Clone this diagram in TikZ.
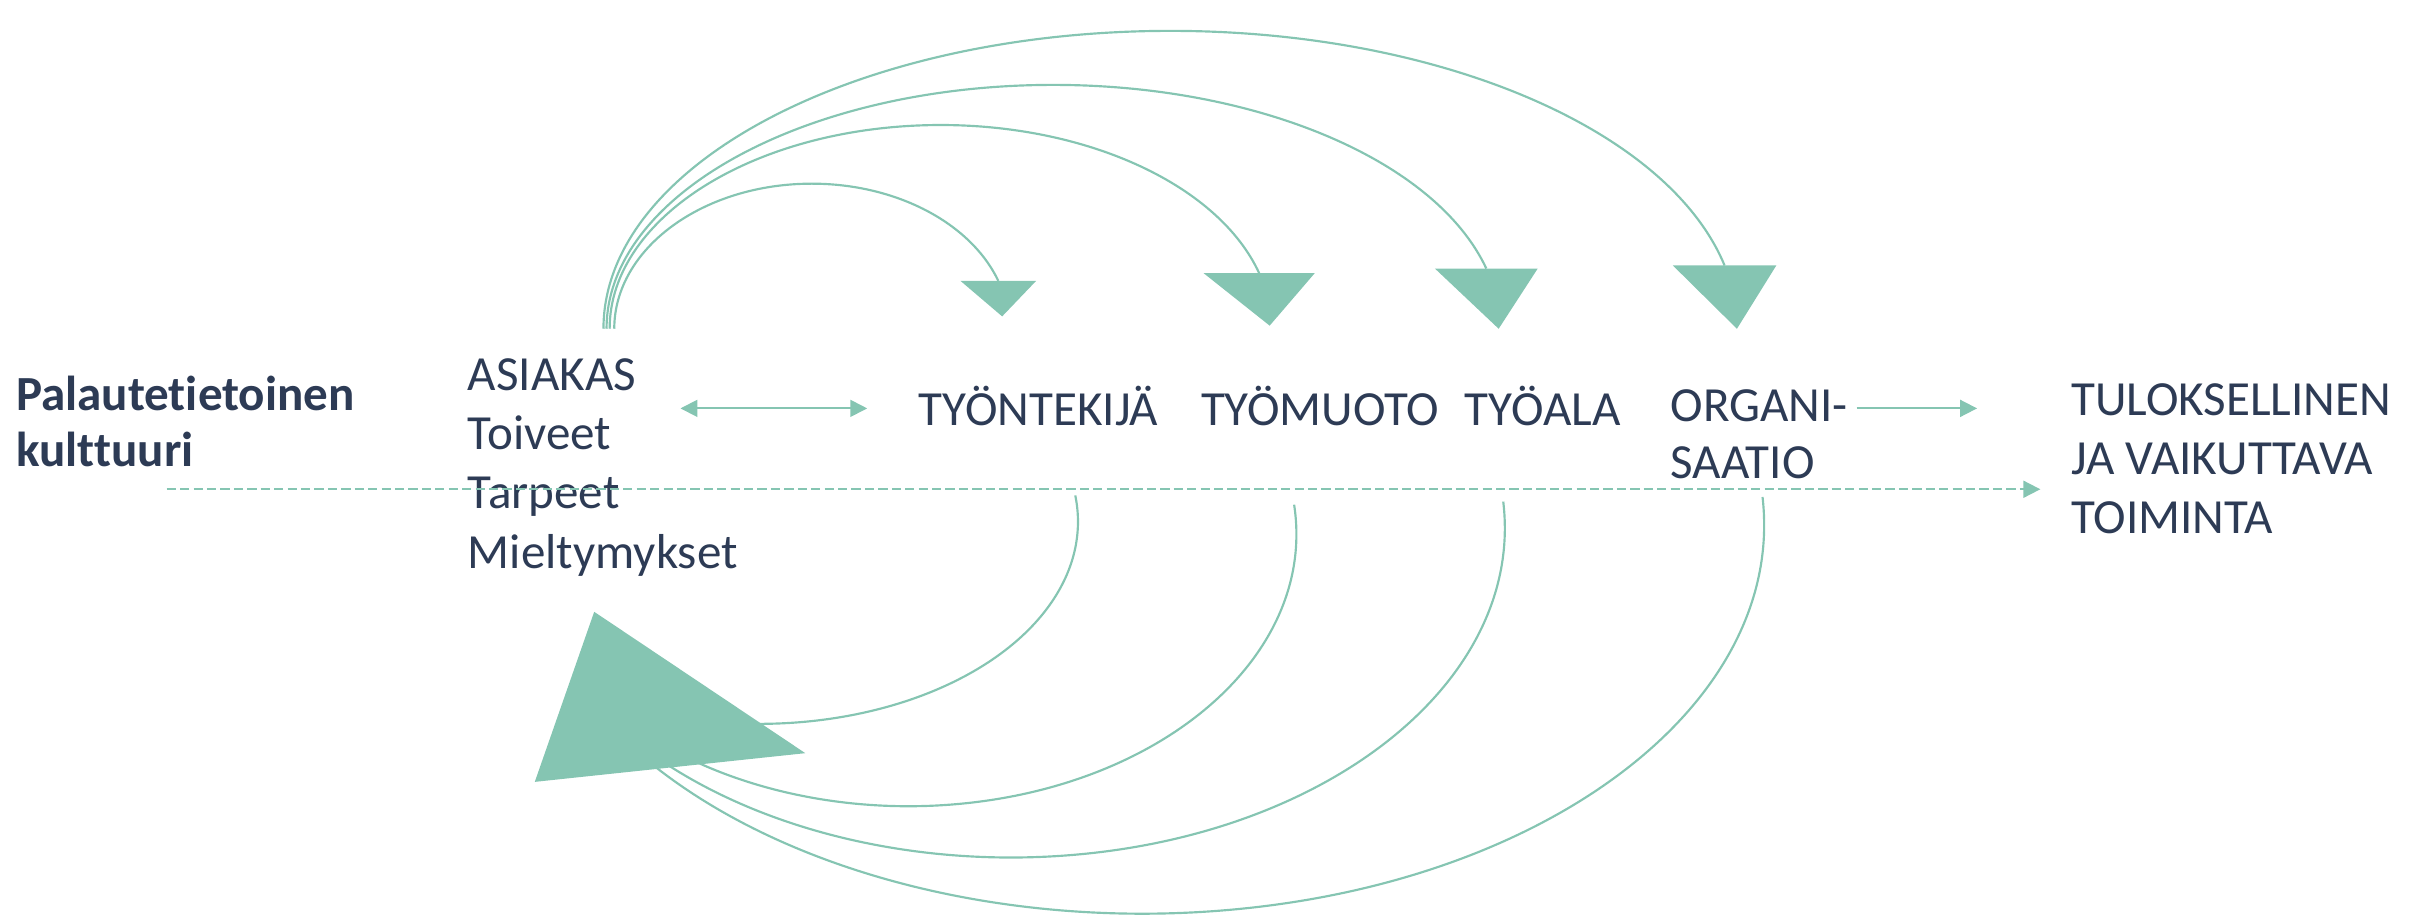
\documentclass[tikz,border=0pt]{standalone}
\usepackage{fontspec}
\setmainfont{Carlito}[Ligatures={NoCommon,NoRequired,NoContextual}]
\usetikzlibrary{arrows.meta}
\definecolor{tealc}{HTML}{85C5B2}
\definecolor{navyc}{HTML}{2D3B55}
\begin{document}
\begin{tikzpicture}[x=1pt,y=-1pt,
  lbl/.style={anchor=base west, inner sep=0pt, outer sep=0pt, text=navyc,
              font=\fontsize{31.8}{38.5}\selectfont},
  boldlbl/.style={lbl, font=\fontsize{31.8}{38.5}\selectfont\bfseries},
  arcline/.style={draw=tealc, line width=1.4pt},
  headfill/.style={fill=tealc, draw=none},
  flow/.style={draw=tealc, line width=1.2pt, -{Triangle[length=11pt,width=11pt]}},
  dflow/.style={draw=tealc, line width=1.2pt, {Triangle[length=11pt,width=11pt]}-{Triangle[length=11pt,width=11pt]}},
  dashline/.style={flow, dash pattern=on 6pt off 2.7pt}
]
\useasboundingbox (0,0) rectangle (1568,594.8);

% left title
\node[boldlbl] (pal1) at (10.4,265.7) {Palautet\kern0pt ietoinen};
\node[boldlbl] (pal2) at (10.4,302.4) {kult\kern0pt tuuri};

% ASIAKAS block
\node[lbl] (asiakas) at (303.2,252.7) {ASIAKAS};
\node[lbl] (toiveet) at (303.2,291.2) {Toiveet};
\node[lbl] (tarpeet) at (303.2,329.7) {Tarpeet};
\node[lbl] (mielt)   at (303.2,368.2) {Mieltymykset};

% middle items
\node[lbl] (tyontekija) at (595.4,275.4) {TYÖNTEKIJÄ};
\node[lbl] (tyomuoto)   at (778.2,275.4) {TYÖMUOTO};
\node[lbl] (tyoala)     at (949.1,275.4) {TYÖALA};
\node[lbl] (organi)     at (1082.4,273.2) {ORGANI-};
\node[lbl] (saatio)     at (1082.4,310.2) {SAATIO};

% result
\node[lbl] (tulos1) at (1342,268.9) {TULOKSELLINEN};
\node[lbl] (tulos2) at (1342,307.3) {JA VAIKUTTAVA};
\node[lbl] (tulos3) at (1342,345.7) {TOIMINTA};

% straight connectors
\coordinate (da) at (440.9,264.6);
\coordinate (db) at (561.9,264.6);
\draw[dflow] (da) -- (db);
\coordinate (oa) at (1203,264.6);
\coordinate (ob) at (1281,264.6);
\draw[flow] (oa) -- (ob);
\coordinate (dsa) at (108,317);
\coordinate (dsb) at (1322,317);
\draw[dashline] (dsa) -- (dsb);

% top arcs from ASIAKAS
\coordinate (s1) at (398,213);
\coordinate (s2) at (395,213);
\coordinate (s3) at (393,213);
\coordinate (s4) at (391,213);
\draw[arcline] (s1) arc[start angle=180, end angle=340.74, x radius=128, y radius=94] coordinate (e1);
\draw[arcline] (s2) arc[start angle=180, end angle=344.17, x radius=214.5, y radius=132] coordinate (e2);
\draw[arcline] (s3) arc[start angle=180, end angle=345.71, x radius=289.5, y radius=158] coordinate (e3);
\draw[arcline] (s4) arc[start angle=180, end angle=347.74, x radius=367.4, y radius=193] coordinate (e4);
\fill[headfill] (e1) ++(-24.5,0) -- ++(49,0) -- ++(-22,23) -- cycle;
\fill[headfill] (e2) ++(-36,0) -- ++(72,0) -- ++(-29.2,34) -- cycle;
\fill[headfill] (e3) ++(-33.3,0) -- ++(66.6,0) -- ++(-25.3,39) -- cycle;
\fill[headfill] (e4) ++(-33.5,0) -- ++(67,0) -- ++(-25.5,41) -- cycle;

% bottom arcs back to ASIAKAS
\coordinate (b1) at (696.7,321);
\coordinate (b2) at (838.5,327);
\coordinate (b3) at (974,325);
\coordinate (b4) at (1142,322);
\draw[arcline] (b1) arc[start angle=-7.46, end angle=95, x radius=206.5, y radius=131];
\draw[arcline] (b2) arc[start angle=-6.18, end angle=125, x radius=251.4, y radius=176.4];
\draw[arcline] (b3) arc[start angle=-4.57, end angle=137, x radius=320, y radius=213.6];
\draw[arcline] (b4) arc[start angle=-4.1, end angle=145, x radius=403, y radius=252];

% big return arrowhead
\coordinate (t1) at (385,396.4);
\coordinate (t2) at (521.8,488);
\coordinate (t3) at (346.5,506.6);
\fill[headfill] (t1) -- (t2) -- (t3) -- cycle;
\end{tikzpicture}
\end{document}
